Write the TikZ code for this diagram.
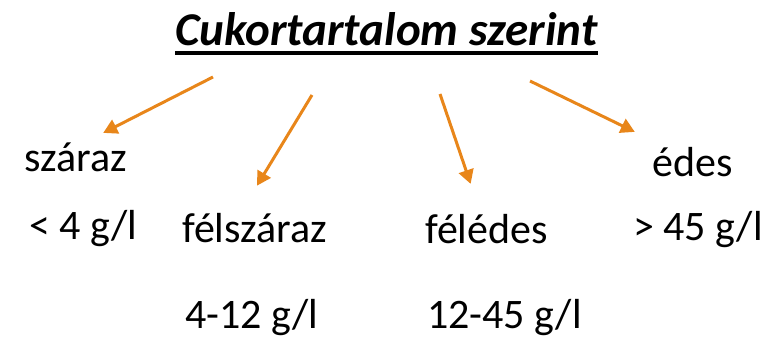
\documentclass[tikz,border=0pt]{standalone}
\usepackage{fontspec}
\setmainfont{Carlito}
\usetikzlibrary{arrows.meta}
\definecolor{arrorange}{RGB}{232,134,26}
\tikzset{
  lbl/.style={anchor=base west, inner sep=0pt, font=\fontsize{42}{50}\selectfont},
  ttl/.style={anchor=base west, inner sep=0pt, font=\fontsize{47}{56}\selectfont\bfseries\itshape},
  arr/.style={draw=arrorange, line width=3pt, -{Triangle[length=14pt,width=15pt]}, shorten >=-2pt}
}
\begin{document}
\begin{tikzpicture}[x=1pt,y=-1pt]
\useasboundingbox (0,0) rectangle (782,338);
\node[ttl] (title) at (175,45) {Cukortartalom szerint};
\draw[line width=3.5pt] (title.base west) ++(0,8) coordinate (ul1) -- (title.base east |- ul1);
\node[lbl] (szaraz) at (24,171) {száraz};
\node[lbl] (szarazv) at (29,239) {< 4 g/l};
\node[lbl] (felszaraz) at (182,242) {félszáraz};
\node[lbl] (felszarazv) at (185,328) {4-12 g/l};
\node[lbl] (feledes) at (425,243) {félédes};
\node[lbl] (feledesv) at (427,328) {12-45 g/l};
\node[lbl] (edes) at (652,176) {édes};
\node[lbl] (edesv) at (633,240) {> 45 g/l};
\coordinate (a1s) at (213,77); \coordinate (a1e) at (105,132);
\coordinate (a2s) at (312,95); \coordinate (a2e) at (258,184);
\coordinate (a3s) at (440,94); \coordinate (a3e) at (470,182);
\coordinate (a4s) at (530,81); \coordinate (a4e) at (633,131);
\draw[arr] (a1s) -- (a1e);
\draw[arr] (a2s) -- (a2e);
\draw[arr] (a3s) -- (a3e);
\draw[arr] (a4s) -- (a4e);
\end{tikzpicture}
\end{document}
